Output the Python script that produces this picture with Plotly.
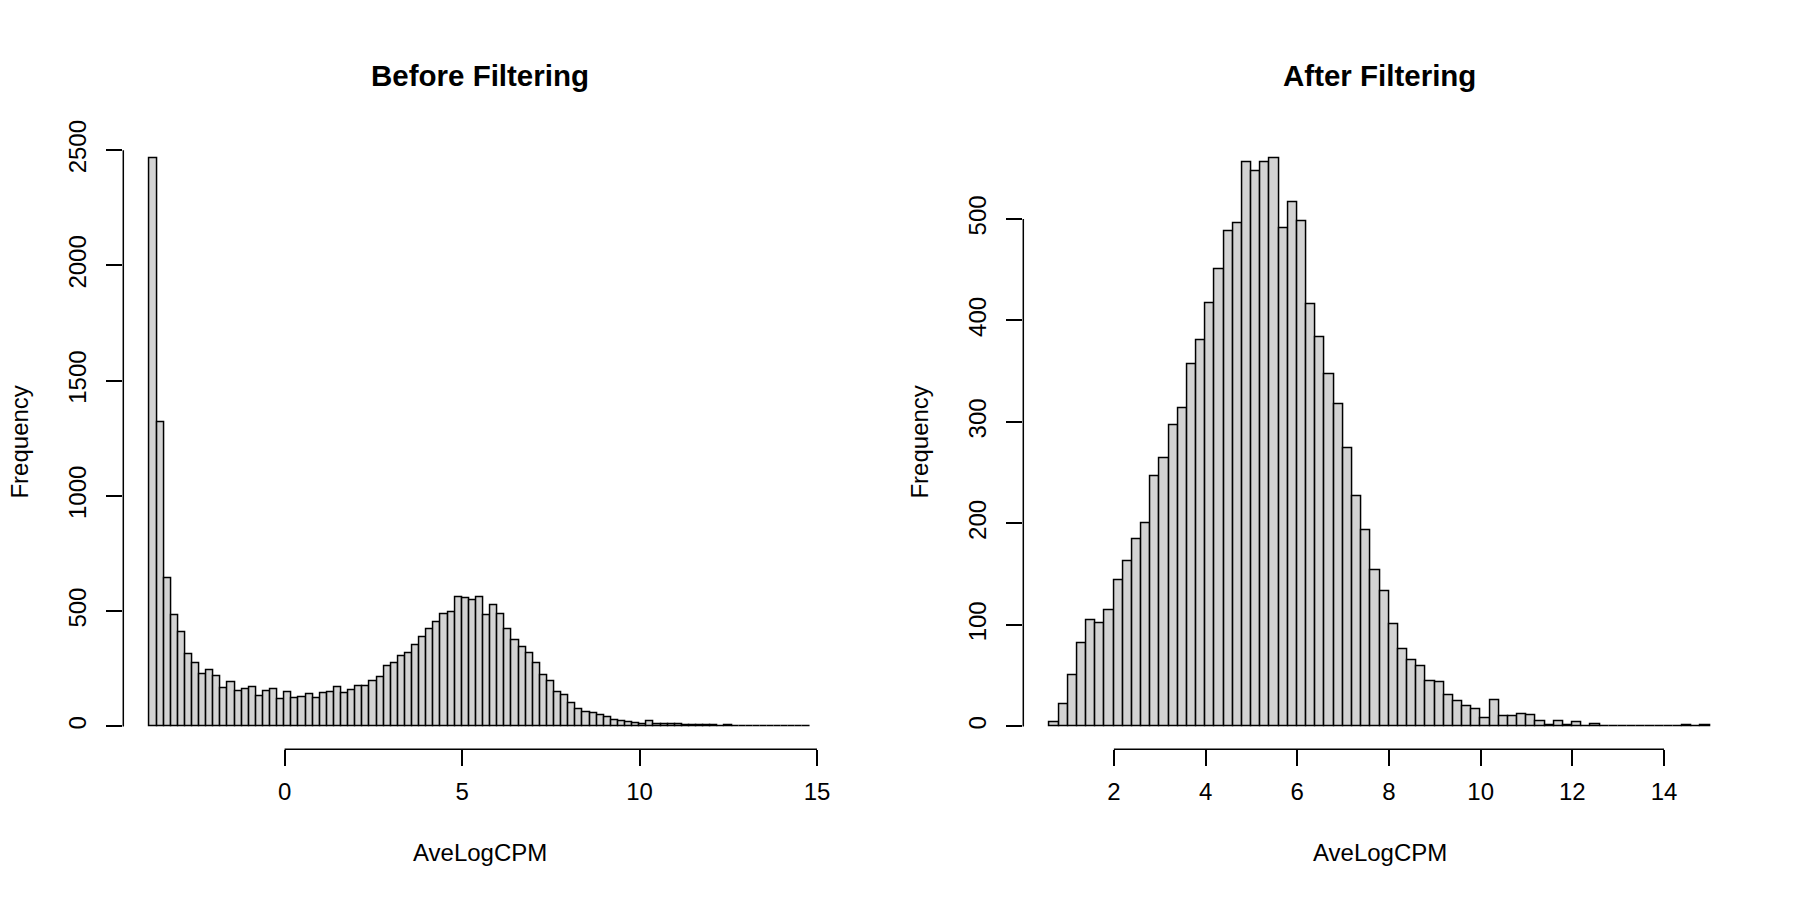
import plotly.graph_objects as go

# ---------------- data ----------------
before_start = -3.8
after_start = 0.6
bin_width = 0.2

before_counts = [
    2466, 1320, 643, 481, 410, 313, 275, 226, 243, 218,
    166, 191, 151, 159, 169, 131, 154, 159, 117, 147,
    121, 127, 138, 121, 145, 149, 168, 144, 155, 172,
    175, 196, 215, 262, 275, 303, 317, 353, 387, 421,
    452, 488, 494, 558, 555, 545, 562, 482, 526, 487,
    423, 374, 343, 316, 272, 222, 195, 148, 135, 98,
    75, 63, 57, 47, 41, 28, 23, 17, 13, 7,
    24, 10, 10, 11, 11, 6, 3, 6, 3, 4,
    1, 4, 1, 0, 1, 0, 0, 0, 0, 0,
    0, 1, 1,
]

after_counts = [
    4, 22, 50, 82, 105, 102, 114, 144, 163, 184,
    200, 246, 264, 297, 313, 357, 380, 417, 450, 488,
    496, 556, 547, 556, 560, 491, 516, 498, 416, 383,
    347, 317, 274, 227, 193, 154, 133, 101, 76, 65,
    59, 44, 43, 31, 25, 20, 17, 8, 26, 10,
    10, 12, 11, 5, 1, 5, 1, 4, 0, 2,
    0, 0, 0, 0, 0, 0, 0, 0, 0, 1,
    0, 1,
]

before_xticks = [0, 5, 10, 15]
before_yticks = [0, 500, 1000, 1500, 2000, 2500]
after_xticks = [2, 4, 6, 8, 10, 12, 14]
after_yticks = [0, 100, 200, 300, 400, 500]

titles = ["Before Filtering", "After Filtering"]
xlab = "AveLogCPM"
ylab = "Frequency"

# ---------------- figure ----------------
W, H = 1800, 900
FONT = "Liberation Sans, Arial, Helvetica, sans-serif"
TICK_SIZE = 24
TITLE_SIZE = 29.5
LW = 1.5

# plot regions (pixels)
left_px = [123.3, 836.3]
right_px = [1023.3, 1736.3]
top_px, bottom_px = 122.4, 746.6
ydom = [(H - bottom_px) / H, (H - top_px) / H]

fig = go.Figure()


def centers(start, n):
    return [start + bin_width * (i + 0.5) for i in range(n)]


def r_range(lo, hi):
    d = (hi - lo) * 0.04
    return [lo - d, hi + d]


panels = [
    dict(counts=before_counts, start=before_start, xt=before_xticks, yt=before_yticks,
         dom=left_px, xa="x", ya="y", title=titles[0]),
    dict(counts=after_counts, start=after_start, xt=after_xticks, yt=after_yticks,
         dom=right_px, xa="x2", ya="y2", title=titles[1]),
]

layout_axes = {}
for i, p in enumerate(panels):
    n = len(p["counts"])
    fig.add_trace(go.Bar(
        x=centers(p["start"], n), y=p["counts"], width=bin_width,
        marker=dict(color="#D3D3D3", line=dict(color="black", width=LW)),
        xaxis=p["xa"], yaxis=p["ya"], showlegend=False, hoverinfo="x+y",
    ))
    xr = r_range(p["start"], p["start"] + bin_width * n)
    yr = r_range(0, max(p["counts"]))
    sfx = "" if i == 0 else "2"
    xdom = [p["dom"][0] / W, p["dom"][1] / W]
    layout_axes["xaxis" + sfx] = dict(
        domain=xdom, range=xr, anchor=p["ya"], showgrid=False, zeroline=False,
        showline=False, ticks="outside", ticklen=16, tickwidth=LW, tickcolor="black",
        tickvals=p["xt"], ticktext=[str(v) for v in p["xt"]],
        tickfont=dict(family=FONT, size=TICK_SIZE, color="black"),
        ticklabelstandoff=5, fixedrange=True,
    )
    layout_axes["yaxis" + sfx] = dict(
        domain=ydom, range=yr, anchor=p["xa"], showgrid=False, zeroline=False,
        showline=False, ticks="outside", ticklen=16, tickwidth=LW, tickcolor="black",
        tickvals=p["yt"], ticktext=[str(v) for v in p["yt"]], tickangle=-90,
        tickfont=dict(family=FONT, size=TICK_SIZE, color="black"),
        ticklabelstandoff=11, fixedrange=True,
    )
    # R-style axis lines spanning first to last tick
    fig.add_shape(type="line", xref=p["xa"], yref=p["ya"] + " domain",
                  x0=p["xt"][0], x1=p["xt"][-1], y0=0, y1=0,
                  line=dict(color="black", width=LW))
    fig.add_shape(type="line", xref=p["xa"] + " domain", yref=p["ya"],
                  x0=0, x1=0, y0=p["yt"][0], y1=p["yt"][-1],
                  line=dict(color="black", width=LW))
    cx = (xdom[0] + xdom[1]) / 2
    fig.add_annotation(text="<b>" + p["title"] + "</b>", xref="paper", yref="paper",
                       x=cx, y=(H - 62) / H, showarrow=False,
                       font=dict(family=FONT, size=TITLE_SIZE, color="black"),
                       xanchor="center", yanchor="middle")
    fig.add_annotation(text=xlab, xref="paper", yref="paper",
                       x=cx, y=(H - 852) / H, showarrow=False,
                       font=dict(family=FONT, size=TICK_SIZE, color="black"),
                       xanchor="center", yanchor="middle")
    fig.add_annotation(text=ylab, xref="paper", yref="paper",
                       x=(p["dom"][0] - 104) / W, y=(ydom[0] + ydom[1]) / 2,
                       showarrow=False, textangle=-90,
                       font=dict(family=FONT, size=TICK_SIZE, color="black"),
                       xanchor="center", yanchor="middle")

fig.update_layout(
    width=W, height=H, margin=dict(l=0, r=0, t=0, b=0),
    paper_bgcolor="white", plot_bgcolor="white",
    bargap=0, barmode="overlay",
    **layout_axes,
)

fig.write_html("out.html", config={"displayModeBar": False},
               post_script="document.body.style.margin='0';"
                           "document.body.style.overflow='hidden';")
